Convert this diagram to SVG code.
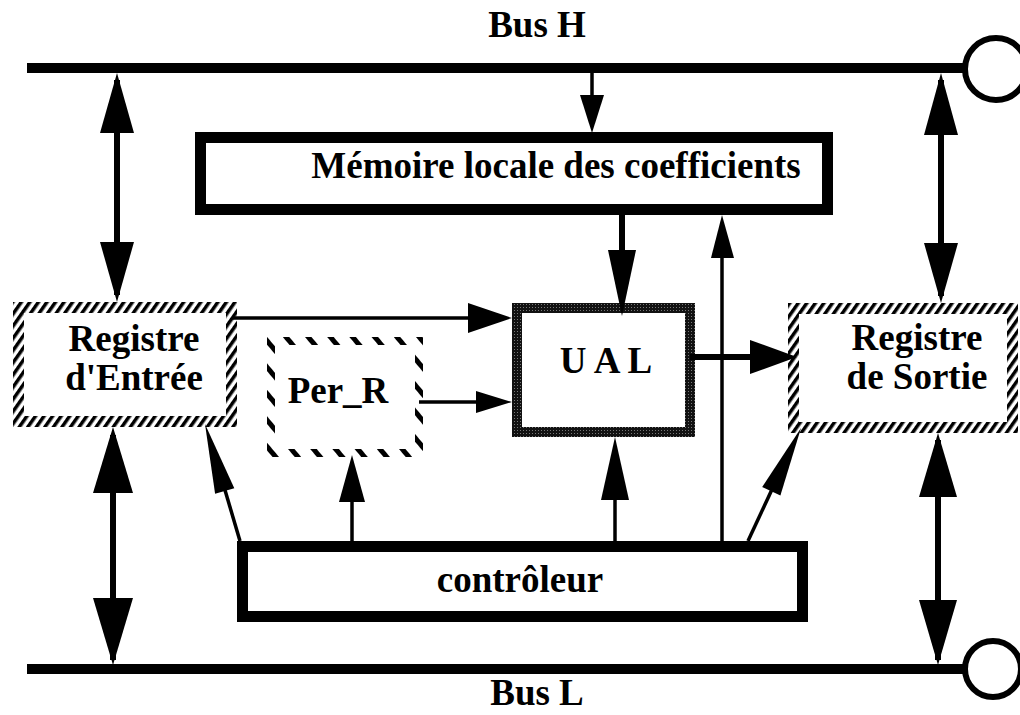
<svg xmlns="http://www.w3.org/2000/svg" width="1020" height="715" viewBox="0 0 1020 715">
  <style>
    .lbl { font-family: "Liberation Serif", "Times New Roman", serif; font-weight: bold; font-size: 37px; fill: #000; text-anchor: middle; }
    .bus { stroke: #000; stroke-width: 10; fill: none; }
    .term { stroke: #000; stroke-width: 6; fill: #fff; }
    .box { fill: #fff; stroke: #000; stroke-width: 11; }
    .reg { fill: #fff; stroke: url(#hatch); stroke-width: 11; }
    .per { fill: #fff; stroke: url(#dashHatch); stroke-width: 8; }
    .alu { fill: #fff; stroke: url(#stipple); stroke-width: 10; }
    .w { stroke: #000; stroke-width: 6; fill: none; }
    .t { stroke: #000; stroke-width: 3.5; fill: none; }
    .head { fill: #000; stroke: none; }
  </style>
  <defs>
    <!-- diagonal hatching for the register borders -->
    <pattern id="hatch" width="7" height="7" patternUnits="userSpaceOnUse" patternTransform="rotate(35)">
      <rect width="7" height="7" fill="#fff"/>
      <rect width="3.5" height="7" fill="#000"/>
    </pattern>
    <!-- sparse slanted dashes for Per_R -->
    <pattern id="dashHatch" width="17" height="17" patternUnits="userSpaceOnUse" patternTransform="rotate(-40)">
      <rect width="17" height="17" fill="#fff"/>
      <rect width="5" height="17" fill="#000"/>
    </pattern>
    <!-- stippled dark border of the ALU -->
    <pattern id="stipple" width="3" height="3" patternUnits="userSpaceOnUse">
      <rect width="3" height="3" fill="#111"/>
      <rect x="1" y="1" width="1" height="1" fill="#777"/>
    </pattern>
  </defs>

  <!-- buses -->
  <g id="busH">
    <line class="bus" x1="27" y1="68" x2="966" y2="68"/>
    <circle class="term" cx="996" cy="69" r="31"/>
    <text class="lbl" x="537" y="37">Bus H</text>
  </g>
  <g id="busL">
    <line class="bus" x1="27" y1="669" x2="964" y2="669"/>
    <circle class="term" cx="993" cy="669" r="28"/>
    <text class="lbl" x="537" y="705">Bus L</text>
  </g>

  <!-- nodes -->
  <g id="memoire">
    <rect class="box" x="200.5" y="137.5" width="627" height="72"/>
    <text class="lbl" x="556" y="178">Mémoire locale des coefficients</text>
  </g>
  <g id="regEntree">
    <rect class="reg" x="18.5" y="307.5" width="213" height="114"/>
    <text class="lbl" x="134" y="351">Registre<tspan x="134" dy="39">d'Entrée</tspan></text>
  </g>
  <g id="perR">
    <rect class="per" x="271" y="341" width="148" height="112"/>
    <text class="lbl" x="338" y="403">Per_R</text>
  </g>
  <g id="ual">
    <rect class="alu" x="517" y="308" width="173" height="124"/>
    <text class="lbl" x="606" y="373">U A L</text>
  </g>
  <g id="regSortie">
    <rect class="reg" x="793.5" y="308.5" width="219" height="119"/>
    <text class="lbl" x="917" y="350">Registre<tspan x="917" dy="39">de Sortie</tspan></text>
  </g>
  <g id="controleur">
    <rect class="box" x="242.5" y="546.5" width="560" height="70"/>
    <text class="lbl" x="520" y="592">contrôleur</text>
  </g>

  <!-- connectors -->
  <g id="connectors">
    <!-- Bus H to memory -->
    <line class="t" x1="592" y1="73" x2="592" y2="100"/>
    <polygon class="head" points="592,133 580,95 604,95"/>
    <!-- memory to ALU -->
    <line class="w" x1="622" y1="215" x2="622" y2="255"/>
    <polygon class="head" points="622,316 608,250 636,250"/>
    <!-- controller to memory -->
    <line class="t" x1="722" y1="541" x2="722" y2="250"/>
    <polygon class="head" points="722,215 711,258 734,258"/>

    <!-- Bus H <-> input register -->
    <line class="w" x1="117" y1="80" x2="117" y2="295"/>
    <polygon class="head" points="117,73 100,133 134,133"/>
    <polygon class="head" points="117,302 100,242 134,242"/>
    <!-- input register <-> Bus L -->
    <line class="w" x1="113" y1="435" x2="113" y2="660"/>
    <polygon class="head" points="113,427 93,493 133,493"/>
    <polygon class="head" points="113,665 93,598 133,598"/>
    <!-- Bus H <-> output register -->
    <line class="w" x1="941" y1="80" x2="941" y2="296"/>
    <polygon class="head" points="941,73 924,135 958,135"/>
    <polygon class="head" points="941,303 924,243 958,243"/>
    <!-- output register <-> Bus L -->
    <line class="w" x1="938" y1="440" x2="938" y2="660"/>
    <polygon class="head" points="938,433 919,497 957,497"/>
    <polygon class="head" points="938,665 919,600 957,600"/>

    <!-- input register to ALU -->
    <line class="t" x1="232" y1="318" x2="472" y2="318"/>
    <polygon class="head" points="512,318 468,303 468,333"/>
    <!-- Per_R to ALU -->
    <line class="t" x1="419" y1="402" x2="480" y2="402"/>
    <polygon class="head" points="512,402 476,391 476,413"/>
    <!-- ALU to output register -->
    <line class="w" x1="690" y1="357" x2="755" y2="357"/>
    <polygon class="head" points="797,357 750,340 750,374"/>

    <!-- controller outputs -->
    <line class="t" x1="240" y1="541" x2="222" y2="480"/>
    <polygon class="head" points="205,424 234.3,488.2 215.1,493.8"/>
    <line class="t" x1="352" y1="541" x2="352" y2="498"/>
    <polygon class="head" points="352,455 339,502 365,502"/>
    <line class="t" x1="615" y1="541" x2="615" y2="496"/>
    <polygon class="head" points="615,437 601,500 629,500"/>
    <line class="t" x1="748" y1="541" x2="775" y2="483"/>
    <polygon class="head" points="801,428 780.4,495.6 762.2,487.1"/>
  </g>
</svg>
